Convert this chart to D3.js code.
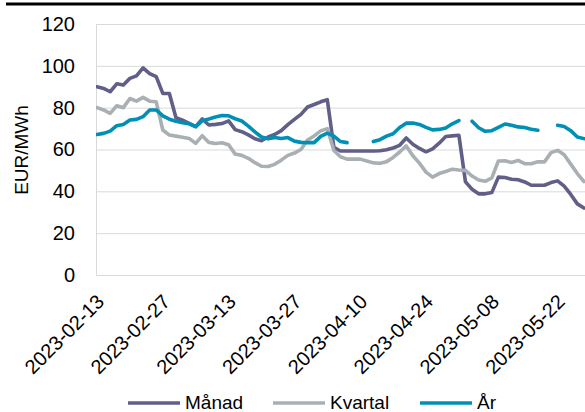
<!DOCTYPE html>
<html>
<head>
<meta charset="utf-8">
<script src="https://cdn.jsdelivr.net/npm/d3@7"></script>
<style>
  body { margin: 0; background: #fff; }
  svg { display: block; font-family: "Liberation Sans", Arial, sans-serif; }
</style>
</head>
<body>
<script>
'use strict';

// one value per trading day, starting 2023-02-13 (null = no quote)
const manad = [
    90, 89.2, 87.6, 91.4, 90.8, 94, 95.2, 99, 96.3, 94.8,
    86.8, 86.8, 75.2, 74, 72.5, 70.9, 74.6, 71.7, 72, 72.4,
    73.7, 69.5, 68.5, 67, 65.1, 64.2, 66, 67.2, 69, 71.9,
    74.4, 76.8, 80.3, 81.5, 82.8, 83.8, 61, 59.3, 59.3, 59.3,
    59.3, 59.3, 59.3, 59.4, 59.9, 60.7, 62, 65.5, 62.5, 60.5,
    58.9, 60.3, 63, 66.2, 66.5, 66.8, 44.5, 41, 38.8, 38.8,
    39.4, 46.8, 46.6, 45.8, 45.5, 44.5, 42.9, 42.9, 42.9, 44.2,
    45, 42.5, 38.5, 34, 32
];

const kvartal = [
    80, 78.9, 77.3, 80.9, 80, 84.4, 83.1, 84.9, 83.1, 82.8,
    69.3, 66.9, 66.4, 65.9, 65.3, 62.9, 66.6, 63.4, 62.9, 63.2,
    62.3, 57.8, 57.2, 55.8, 53.7, 52, 51.9, 52.9, 54.9, 57.2,
    58.3, 60, 64.5, 66.5, 68.9, 70, 59.5, 56.5, 55.4, 55.4,
    55.4, 54.5, 53.6, 53.4, 54.2, 56.2, 58.8, 61.7, 57, 53.5,
    49.2, 46.8, 48.5, 49.5, 50.6, 50.2, 50, 47.3, 45.4, 44.8,
    46.4, 54.5, 54.6, 53.8, 54.8, 53.2, 53.2, 54.1, 54.1, 58.5,
    59.6, 57.5, 53, 48.5, 44.7
];

const ar = [
    67.2, 67.7, 68.8, 71.4, 72, 74.1, 74.4, 75.7, 78.9, 78.9,
    76.1, 74.5, 73.5, 72.8, 72.3, 70.9, 73.8, 74.6, 75.5, 76.2,
    76.1, 74.7, 73.6, 71.2, 68.4, 66, 65.1, 65.7, 65.3, 65.7,
    64, 63.4, 63.3, 63.3, 66.3, 67.8, 66.4, 63.8, 63.3, null,
    null, null, 63.8, 64.7, 66.4, 67.5, 70.5, 72.6, 72.7, 72,
    70.6, 69.4, 69.6, 70.3, 72.3, 73.8, null, 73.5, 70.4, 68.7,
    69, 70.6, 72.2, 71.6, 70.8, 70.5, 69.7, 69.2, null, null,
    71.6, 71, 69, 66, 65.2
];

// labels shown every 10th trading day
const tickLabels = ["2023-02-13", "2023-02-27", "2023-03-13", "2023-03-27",
    "2023-04-10", "2023-04-24", "2023-05-08", "2023-05-22"];
const yTicks = [0, 20, 40, 60, 80, 100, 120];

const seriesNames = ["Månad", "Kvartal", "År"];
const seriesColors = ["#615f88", "#a9b0b4", "#0090b6"];
const seriesData = [manad, kvartal, ar];

const W = 585, H = 412;
const plot = { left: 96, right: 585, top: 24, bottom: 275 };
const fontFamily = "'Liberation Sans', Arial, sans-serif";

const svg = d3.select("body").append("svg")
    .attr("width", W)
    .attr("height", H);

// black rule at the very top
svg.append("rect")
    .attr("x", 6).attr("y", 2.5)
    .attr("width", W - 6).attr("height", 3)
    .attr("fill", "#000");

const x = d3.scaleLinear()
    .domain([0, manad.length - 1])
    .range([97, 97 + 6.58 * (manad.length - 1)]);

const y = d3.scaleLinear()
    .domain([0, 120])
    .range([plot.bottom, plot.top]);

// y axis with gridlines
const yAxis = d3.axisLeft(y)
    .tickValues(yTicks)
    .tickSize(-(plot.right - plot.left))
    .tickPadding(21);

const gy = svg.append("g")
    .attr("transform", "translate(" + plot.left + ",0)")
    .call(yAxis);
gy.select(".domain").remove();
gy.selectAll("line").attr("stroke", "#d9d9d9");
gy.selectAll("text")
    .attr("fill", "#000")
    .style("font-size", "20px")
    .style("font-family", fontFamily);

// left axis line
svg.append("line")
    .attr("x1", plot.left + 0.5).attr("x2", plot.left + 0.5)
    .attr("y1", plot.top).attr("y2", plot.bottom)
    .attr("stroke", "#d9d9d9");

// x axis, rotated labels
const xAxis = d3.axisBottom(x)
    .tickValues(d3.range(0, tickLabels.length * 10, 10))
    .tickFormat((d) => tickLabels[d / 10])
    .tickSize(0);

const gx = svg.append("g")
    .attr("transform", "translate(0," + plot.bottom + ")")
    .call(xAxis);
gx.select(".domain")
    .attr("stroke", "#d9d9d9")
    .attr("d", "M" + plot.left + ",0.5H" + plot.right);
gx.selectAll("text")
    .attr("x", 0).attr("y", 0)
    .attr("dy", "0.35em")
    .attr("transform", "translate(3,23) rotate(-45)")
    .style("text-anchor", "end")
    .attr("fill", "#000")
    .style("font-size", "20px")
    .style("font-family", fontFamily);

// y axis title
svg.append("text")
    .attr("transform", "translate(28,150) rotate(-90)")
    .attr("text-anchor", "middle")
    .style("font-size", "19px")
    .text("EUR/MWh");

// lines
const line = d3.line()
    .defined((d) => d !== null)
    .x((d, i) => x(i))
    .y((d) => y(d));

svg.append("clipPath").attr("id", "clip")
    .append("rect")
    .attr("x", plot.left).attr("y", 0)
    .attr("width", plot.right - plot.left).attr("height", plot.bottom + 5);

const lines = svg.append("g").attr("clip-path", "url(#clip)");
seriesData.forEach((arr, k) => {
    lines.append("path")
        .datum(arr)
        .attr("fill", "none")
        .attr("stroke", seriesColors[k])
        .attr("stroke-width", 3.6)
        .attr("stroke-linejoin", "round")
        .attr("stroke-linecap", "round")
        .attr("d", line);
});

// legend at the bottom
const legendX = [128, 273, 420];
const legend = svg.append("g");
seriesNames.forEach((name, k) => {
    legend.append("line")
        .attr("x1", legendX[k]).attr("x2", legendX[k] + 52)
        .attr("y1", 403).attr("y2", 403)
        .attr("stroke", seriesColors[k])
        .attr("stroke-width", 3.6);
    legend.append("text")
        .attr("x", legendX[k] + 57)
        .attr("y", 408.5)
        .style("font-size", "19px")
        .text(name);
});
</script>
</body>
</html>
